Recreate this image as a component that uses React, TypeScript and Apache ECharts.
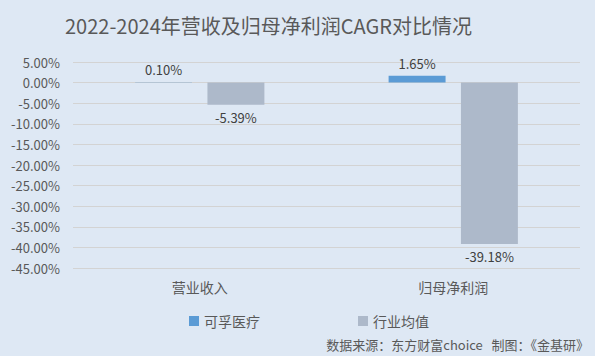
import React, { useEffect, useRef } from "react";
import * as echarts from "echarts";

const categories = ["营业收入", "归母净利润"];
const seriesNames = ["可孚医疗", "行业均值"];
const kefuValues = [0.1, 1.65];
const industryValues = [-5.39, -39.18];
const titleText = "2022-2024年营收及归母净利润CAGR对比情况";
const sourceText = "数据来源：东方财富choice   制图：《金基研》";

const FONT = "'Noto Sans CJK SC', 'Noto Sans', sans-serif";

export default function App() {
  const ref = useRef<HTMLDivElement>(null);
  useEffect(() => {
    if (!ref.current) return;
    const chart = echarts.init(ref.current, undefined, { renderer: "svg" });
    const labelCommon = {
      show: true,
      color: "#404040",
      fontSize: 13,
      fontFamily: FONT,
      distance: 6,
      formatter: (p: any) => p.value.toFixed(2) + "%",
    };
    chart.setOption({
      animation: false,
      backgroundColor: "#dee8f4",
      textStyle: { fontFamily: FONT },
      title: {
        text: titleText,
        left: 60,
        top: 10,
        textStyle: { fontSize: 20, fontWeight: "normal", color: "#595959", fontFamily: FONT },
      },
      legend: {
        left: 184,
        top: 309,
        itemWidth: 10,
        itemHeight: 10,
        itemGap: 98,
        icon: "rect",
        textStyle: { fontSize: 14, color: "#595959", fontFamily: FONT },
        data: seriesNames,
      },
      grid: { left: 73, right: 15, top: 62, bottom: 88 },
      xAxis: {
        type: "category",
        data: categories,
        axisLine: { show: false },
        axisTick: { show: false },
        axisLabel: { fontSize: 14, color: "#595959", margin: 12, fontFamily: FONT },
      },
      yAxis: {
        type: "value",
        min: -45,
        max: 5,
        interval: 5,
        axisLine: { show: false },
        axisTick: { show: false },
        splitLine: { lineStyle: { color: "#d3d3d3", width: 1 } },
        axisLabel: {
          fontSize: 13,
          color: "#595959",
          margin: 13,
          fontFamily: FONT,
          formatter: (v: number) => v.toFixed(2) + "%",
        },
      },
      series: [
        {
          name: seriesNames[0],
          type: "bar",
          data: kefuValues,
          itemStyle: { color: "#5b9bd5" },
          barCategoryGap: "49%",
          barGap: "27%",
          label: { ...labelCommon, position: "top" },
        },
        {
          name: seriesNames[1],
          type: "bar",
          data: industryValues,
          itemStyle: { color: "#adb9ca" },
          label: { ...labelCommon, position: "bottom" },
        },
      ],
      graphic: [
        {
          type: "text",
          right: 6,
          top: 338,
          style: { text: sourceText, fontSize: 13, fill: "#595959", fontFamily: FONT },
        },
      ],
    });
    return () => chart.dispose();
  }, []);
  return <div ref={ref} style={{ width: 595, height: 356, position: "absolute", left: 0, top: 0 }} />;
}
